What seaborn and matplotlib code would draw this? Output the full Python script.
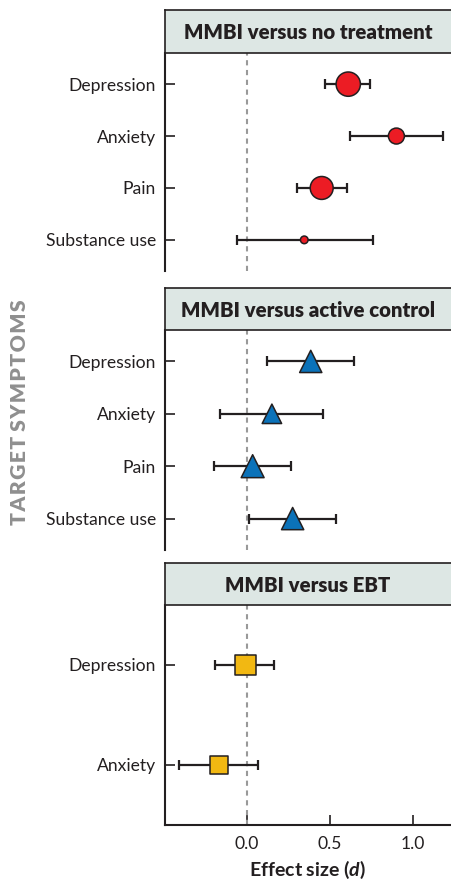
import numpy as np
import pandas as pd
import matplotlib
matplotlib.use("Agg")
import matplotlib.pyplot as plt
import seaborn as sns

sns.set_theme(style="white")
plt.rcParams["font.family"] = ["Lato", "DejaVu Sans"]
plt.rcParams["mathtext.fontset"] = "custom"
plt.rcParams["mathtext.it"] = "Lato:bold:italic"
plt.rcParams["mathtext.rm"] = "Lato:bold"

# ---------------- data ----------------
panel_titles = ["MMBI versus no treatment", "MMBI versus active control", "MMBI versus EBT"]

nt_symptoms = ["Depression", "Anxiety", "Pain", "Substance use"]
nt_effect = [0.61, 0.90, 0.45, 0.345]
nt_lower = [0.47, 0.62, 0.30, -0.06]
nt_upper = [0.74, 1.18, 0.60, 0.76]
nt_weight = [17.5, 11.5, 16.5, 5.5]

ac_symptoms = ["Depression", "Anxiety", "Pain", "Substance use"]
ac_effect = [0.384, 0.15, 0.034, 0.275]
ac_lower = [0.12, -0.16, -0.20, 0.014]
ac_upper = [0.645, 0.46, 0.265, 0.534]
ac_weight = [16.0, 14.0, 16.5, 16.0]

ebt_symptoms = ["Depression", "Anxiety"]
ebt_effect = [-0.01, -0.17]
ebt_lower = [-0.19, -0.41]
ebt_upper = [0.165, 0.064]
ebt_weight = [15.0, 13.0]

x_ticks = [0.0, 0.5, 1.0]
x_tick_labels = ["0.0", "0.5", "1.0"]

# ---------------- figure ----------------
W, H = 451, 884
fig = plt.figure(figsize=(W / 100, H / 100), dpi=100)
fig.patch.set_facecolor("white")

dark = "#231f20"
header_color = "#dde7e4"

def fx(px):
    return px / W

def fy(px_top, px_bottom):
    return (H - px_bottom) / H, (px_bottom - px_top) / H

panels = [
    dict(title=panel_titles[0], sym=nt_symptoms, eff=nt_effect, lo=nt_lower, hi=nt_upper,
         w=nt_weight, marker="o", color="#ec1c24", head=(10, 53), body=(53, 271)),
    dict(title=panel_titles[1], sym=ac_symptoms, eff=ac_effect, lo=ac_lower, hi=ac_upper,
         w=ac_weight, marker="^", color="#0b72b9", head=(288, 330), body=(330, 550)),
    dict(title=panel_titles[2], sym=ebt_symptoms, eff=ebt_effect, lo=ebt_lower, hi=ebt_upper,
         w=ebt_weight, marker="s", color="#f2b812", head=(563, 605), body=(605, 825)),
]

left_px, right_px = 165, 451
xlim = (-0.494, 1.229)

for i, p in enumerate(panels):
    b, h = fy(*p["body"])
    ax = fig.add_axes([fx(left_px), b, fx(right_px - left_px), h])
    df = pd.DataFrame({
        "symptom": p["sym"],
        "effect": p["eff"],
        "lower": p["lo"],
        "upper": p["hi"],
        "weight": p["w"],
    })
    df["pos"] = np.arange(len(df))
    ax.axvline(0, color="#999999", ls=(0, (2.5, 2.2)), lw=1.5, zorder=1)
    ax.errorbar(df["effect"], df["pos"],
                xerr=[df["effect"] - df["lower"], df["upper"] - df["effect"]],
                fmt="none", ecolor=dark, elinewidth=1.6, capsize=3.3, capthick=1.6, zorder=2)
    sns.scatterplot(data=df, x="effect", y="pos", marker=p["marker"], color=p["color"],
                    s=np.array(df["weight"]) ** 2, edgecolor=dark, linewidth=1.1,
                    legend=False, zorder=3, ax=ax)
    n = len(df)
    ax.set_ylim(n - 1 + 0.6, -0.6)
    ax.set_xlim(*xlim)
    ax.set_yticks(df["pos"])
    ax.set_yticklabels(df["symptom"])
    ax.set_ylabel("")
    ax.set_facecolor("white")
    for s in ["top", "right"]:
        ax.spines[s].set_visible(False)
    ax.spines["left"].set_color(dark)
    ax.spines["left"].set_linewidth(1.5)
    ax.tick_params(axis="y", direction="in", length=7, width=1.2, color=dark,
                   pad=6.5, labelsize=12.6, labelcolor=dark, left=True)
    if i < 2:
        ax.spines["bottom"].set_visible(False)
        ax.set_xticks([])
        ax.set_xlabel("")
    else:
        ax.spines["bottom"].set_color(dark)
        ax.spines["bottom"].set_linewidth(1.5)
        ax.set_xticks(x_ticks)
        ax.set_xticklabels(x_tick_labels)
        ax.tick_params(axis="x", direction="in", length=7, width=1.2, color=dark,
                       pad=8, labelsize=12.6, labelcolor=dark, bottom=True)
        ax.set_xlabel(r"Effect size ($\mathit{d}$)", fontsize=14, fontweight="bold",
                      color=dark, labelpad=5)

    # header strip
    hb, hh = fy(*p["head"])
    hax = fig.add_axes([fx(left_px), hb, fx(right_px - left_px), hh])
    hax.set_facecolor(header_color)
    hax.set_xticks([])
    hax.set_yticks([])
    for s in ["top", "left", "bottom"]:
        hax.spines[s].set_color(dark)
        hax.spines[s].set_linewidth(1.2)
        hax.spines[s].set_visible(True)
    hax.spines["right"].set_visible(False)
    hax.text(0.5, 0.47, p["title"], ha="center", va="center", fontsize=14.7,
             fontweight="heavy", color=dark, transform=hax.transAxes)

side_label = "\u200a".join("TARGET") + " " + "\u200a".join("SYMPTOMS")
fig.text(fx(20), 1 - 412 / H, side_label,
         rotation=90, ha="center", va="center",
         fontsize=15.2, fontweight="heavy", color="#8f8f8f")

fig.savefig("out.png", dpi=100, facecolor="white")
